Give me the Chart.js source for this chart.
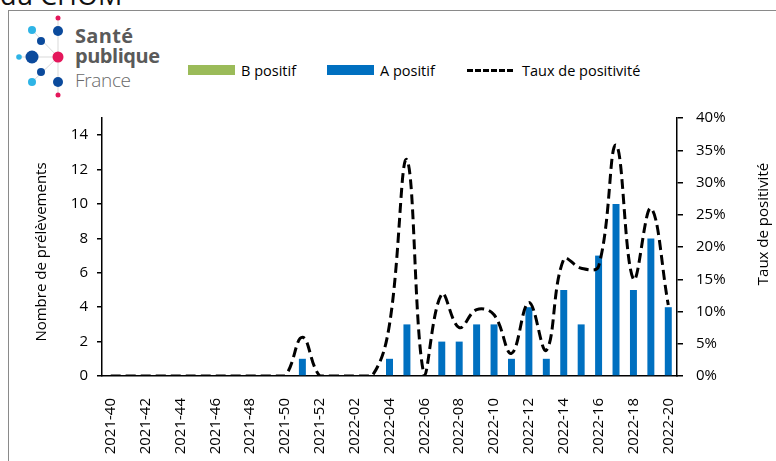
<!DOCTYPE html>
<html>
<head>
<meta charset="utf-8">
<script src="https://cdn.jsdelivr.net/npm/chart.js@4"></script>
<style>
  html, body { margin:0; padding:0; background:#fff; }
  body { width:776px; height:461px; position:relative; overflow:hidden; font-family:"Open Sans", sans-serif; }
  #cap { position:absolute; left:0; top:-24px; font-size:27px; color:#111; white-space:nowrap; }
  #frame { position:absolute; left:8px; top:10px; width:820px; height:520px; border:1px solid #8a8a8a; }
  #logo { position:absolute; left:0; top:0; }
  .lg { position:absolute; top:59px; font-size:14.5px; color:#000; display:flex; align-items:center; height:22px; }
  .sw { width:47px; height:10px; margin-right:6px; }
  .dash { width:46px; height:0; border-top:3px dashed #000; margin-right:9px; }
  #c { position:absolute; left:0; top:0; }
</style>
</head>
<body>
<div id="cap">du CHOM</div>
<div id="frame"></div>
<svg id="logo" width="180" height="110" xmlns="http://www.w3.org/2000/svg">
  <g stroke="#d9d9d9" stroke-width="1">
    <line x1="58" y1="57" x2="58" y2="18"/><line x1="58" y1="57" x2="32" y2="30"/>
    <line x1="58" y1="57" x2="19" y2="57"/><line x1="58" y1="57" x2="32" y2="82"/>
    <line x1="58" y1="57" x2="58" y2="95"/>
  </g>
  <circle cx="58" cy="18" r="2.5" fill="#e4175b"/>
  <circle cx="58" cy="31" r="5" fill="#0b4a9c"/>
  <circle cx="32" cy="30" r="4" fill="#2eb4e6"/>
  <circle cx="41" cy="41" r="4" fill="#0b4a9c"/>
  <circle cx="19" cy="57" r="2.8" fill="#2eb4e6"/>
  <circle cx="32" cy="57" r="6.5" fill="#0b4a9c"/>
  <circle cx="58" cy="57" r="5.5" fill="#e4175b"/>
  <circle cx="41" cy="72" r="4" fill="#0b4a9c"/>
  <circle cx="32" cy="82" r="4" fill="#2eb4e6"/>
  <circle cx="58" cy="82" r="5" fill="#0b4a9c"/>
  <circle cx="58" cy="95" r="2.5" fill="#e4175b"/>
  <text x="75" y="43" font-family="Open Sans" font-weight="700" font-size="20" fill="#5a5a5a" textLength="58">Santé</text>
  <text x="75" y="63" font-family="Open Sans" font-weight="700" font-size="20" fill="#5a5a5a" textLength="85">publique</text>
  <text x="75" y="87" font-family="Open Sans" font-weight="300" font-size="19" fill="#6a6a6a" textLength="56">France</text>
</svg>
<div class="lg" style="left:188px"><div class="sw" style="background:#9BBB59"></div>B positif</div>
<div class="lg" style="left:327px"><div class="sw" style="background:#0070C0"></div>A positif</div>
<div class="lg" style="left:467px"><div class="dash"></div>Taux de positivité</div>
<canvas id="c" width="776" height="461"></canvas>
<script>
const semaines = [
  '2021-40','2021-41','2021-42','2021-43','2021-44','2021-45','2021-46','2021-47','2021-48','2021-49',
  '2021-50','2021-51','2021-52','2022-01','2022-02','2022-03','2022-04','2022-05','2022-06','2022-07',
  '2022-08','2022-09','2022-10','2022-11','2022-12','2022-13','2022-14','2022-15','2022-16','2022-17',
  '2022-18','2022-19','2022-20'
];
const bPositif = [0,0,0,0,0,0,0,0,0,0,0,0,0,0,0,0,0,0,0,0,0,0,0,0,0,0,0,0,0,0,0,0,0];
const aPositif = [0,0,0,0,0,0,0,0,0,0,0,1,0,0,0,0,1,3,0,2,2,3,3,1,4,1,5,3,7,10,5,8,4];
const tauxPositivite = [0,0,0,0,0,0,0,0,0,0,0,6,0,0,0,0,8,33.5,0,12.7,7.5,10.3,9.5,3.5,11.4,4,18.1,16.7,17,35.8,15,26,11];
const yTicks = [0,2,4,6,8,10,12,14];

const font = { family:'Open Sans', size:15 };

// titres d'axes (le titre de droite se lit de bas en haut)
const axisTitles = {
  id:'axisTitles',
  afterDraw(c){
    const g = c.ctx;
    g.save();
    g.fillStyle = '#000'; g.font = '15px "Open Sans"'; g.textAlign = 'center'; g.textBaseline = 'middle';
    g.translate(42, 252); g.rotate(-Math.PI/2); g.fillText('Nombre de prélèvements', 0, 0);
    g.restore();
    g.save();
    g.fillStyle = '#000'; g.font = '15px "Open Sans"'; g.textAlign = 'center'; g.textBaseline = 'middle';
    g.translate(764, 224); g.rotate(-Math.PI/2); g.fillText('Taux de positivité', 0, 0);
    g.restore();
  }
};

new Chart(document.getElementById('c'), {
  data:{
    labels: semaines,
    datasets:[
      { type:'bar', label:'B positif', data:bPositif, backgroundColor:'#9BBB59', yAxisID:'y', order:2 },
      { type:'bar', label:'A positif', data:aPositif, backgroundColor:'#0070C0', yAxisID:'y', order:2 },
      { type:'line', label:'Taux de positivité', data:tauxPositivite, yAxisID:'y1', borderColor:'#000',
        borderWidth:3, borderDash:[10,5], tension:0.4, pointRadius:0, fill:false, order:1 }
    ]
  },
  options:{
    responsive:false, animation:false,
    layout:{ padding:{ top:118, left:0, right:0, bottom:0 } },
    plugins:{ legend:{ display:false }, tooltip:{ enabled:false } },
    datasets:{ bar:{ categoryPercentage:1, barPercentage:0.4 } },
    scales:{
      x:{
        stacked:true,
        grid:{ display:false },
        border:{ display:true, color:'#000', width:1.5 },
        ticks:{ autoSkip:false, maxRotation:90, minRotation:90, padding:14, color:'#000', font,
          callback:(v,i) => i % 2 === 0 ? semaines[i] : '' },
        afterFit: s => { s.height = 85; }
      },
      y:{
        position:'left', stacked:true, min:0, max:15,
        grid:{ drawOnChartArea:false, tickLength:5, color:'#000', lineWidth:1.5 },
        border:{ color:'#000', width:1.5 },
        ticks:{ stepSize:2, padding:9, color:'#000', font },
        afterBuildTicks: s => { s.ticks = yTicks.map(v => ({ value:v })); },
        afterFit: s => { s.width = 102; }
      },
      y1:{
        position:'right', min:0, max:40,
        grid:{ drawOnChartArea:false, tickLength:6, color:'#000', lineWidth:1.5 },
        border:{ color:'#000', width:1.5 },
        ticks:{ stepSize:5, padding:13, color:'#000', font, callback: v => v + '%' },
        afterFit: s => { s.width = 99; }
      }
    }
  },
  plugins:[axisTitles]
});
</script>
</body>
</html>
